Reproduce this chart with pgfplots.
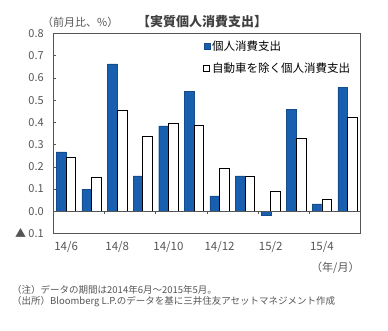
\documentclass[border=0pt]{standalone}
\usepackage{fontspec}
\setmainfont{Noto Sans CJK JP}
\usepackage{pgfplots}
\pgfplotsset{compat=1.18}
\definecolor{barblue}{RGB}{25,95,175}
\definecolor{txtgray}{RGB}{85,85,85}
\begin{document}
\begin{tikzpicture}
\path (0pt,0pt) rectangle (388pt,330pt);
\begin{axis}[
  at={(53.3pt,96.5pt)}, anchor=south west, scale only axis,
  width=307pt, height=200pt,
  xmin=-0.5, xmax=11.5, ymin=-0.1, ymax=0.8,
  ybar=0pt, bar width=9.7pt,
  axis line style={txtgray, line width=0.8pt},
  ytick={-0.1,0,0.1,0.2,0.3,0.4,0.5,0.6,0.7,0.8},
  yticklabels={▲ 0.1,0.0,0.1,0.2,0.3,0.4,0.5,0.6,0.7,0.8},
  yticklabel style={font=\fontsize{11}{11}\selectfont, text=txtgray, xshift=-6pt},
  xtick={0,2,4,6,8,10},
  xticklabels={14/6,14/8,14/10,14/12,15/2,15/4},
  xticklabel style={font=\fontsize{11.5}{11.5}\selectfont, text=txtgray, yshift=-4pt},
  major x tick style={draw=none},
  ytick style={txtgray, line width=0.6pt},
  tick align=inside, major tick length=3pt,
  ytick pos=left, xtick pos=bottom,
  legend image code/.code={\draw[#1] (0pt,-3pt) rectangle (6pt,3pt);},
  legend style={at={(0.488,0.975)}, anchor=north west, draw=none, fill=none,
    font=\fontsize{11.5}{12}\selectfont, row sep=7pt, inner sep=0pt,
    /tikz/every even column/.append style={column sep=0pt}},
  legend cell align=left,
]
\addplot[fill=barblue, draw=barblue!80!black, line width=0.3pt] coordinates {
 (0,0.267) (1,0.100) (2,0.663) (3,0.159) (4,0.384) (5,0.541)
 (6,0.069) (7,0.159) (8,-0.018) (9,0.460) (10,0.033) (11,0.559)};
\addlegendentry{個人消費支出}
\addplot[fill=white, draw=black, line width=0.8pt] coordinates {
 (0,0.244) (1,0.154) (2,0.454) (3,0.339) (4,0.397) (5,0.387)
 (6,0.195) (7,0.159) (8,0.090) (9,0.328) (10,0.055) (11,0.424)};
\addlegendentry{自動車を除く個人消費支出}
\draw[txtgray, line width=0.8pt] (axis cs:-0.5,0) -- (axis cs:11.5,0);
\draw[txtgray, line width=0.6pt] (axis cs:1.5,0) -- ++(0pt,-3pt);
\draw[txtgray, line width=0.6pt] (axis cs:3.5,0) -- ++(0pt,-3pt);
\draw[txtgray, line width=0.6pt] (axis cs:5.5,0) -- ++(0pt,-3pt);
\draw[txtgray, line width=0.6pt] (axis cs:7.5,0) -- ++(0pt,-3pt);
\draw[txtgray, line width=0.6pt] (axis cs:9.5,0) -- ++(0pt,-3pt);
\end{axis}
\node[font=\bfseries\fontsize{13}{13}\selectfont, text=black!75] at (202pt,308pt) {【実質個人消費支出】};
\node[anchor=west, inner sep=0pt, font=\fontsize{11}{11}\selectfont, text=txtgray] at (42pt,308pt) {（前月比、\%）};
\node[anchor=west, inner sep=0pt, font=\fontsize{11}{11}\selectfont, text=txtgray] at (311pt,62pt) {（年/月）};
\node[anchor=west, inner sep=0pt, font=\fontsize{9.5}{9.5}\selectfont, text=txtgray] at (12pt,40pt) {（注）データの期間は2014年6月～2015年5月。};
\node[anchor=west, inner sep=0pt, font=\fontsize{9.5}{9.5}\selectfont, text=txtgray] at (12pt,28pt) {（出所）Bloomberg L.P.のデータを基に三井住友アセットマネジメント作成};
\end{tikzpicture}
\end{document}
